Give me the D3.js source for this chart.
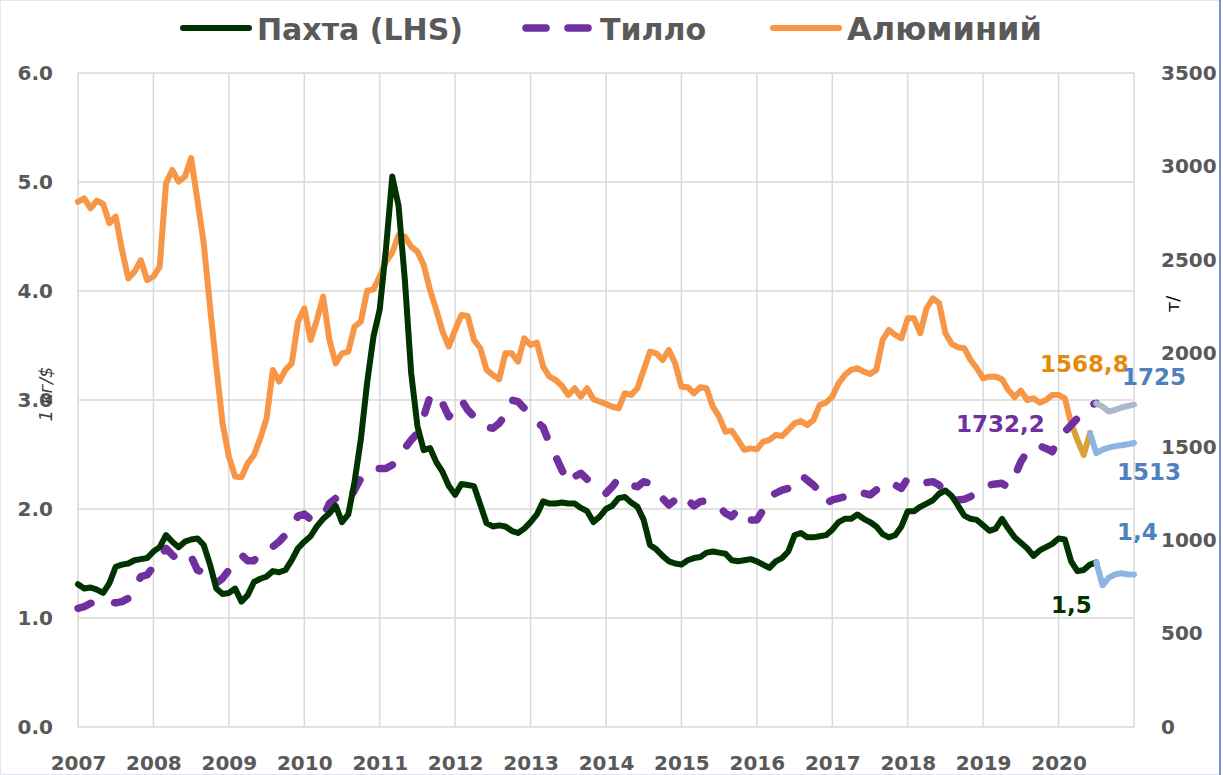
<!DOCTYPE html>
<html>
<head>
<meta charset="utf-8">
<script src="https://cdn.jsdelivr.net/npm/d3@7"></script>
<style>
  body { margin: 0; background: #fff; }
  text { font-family: "DejaVu Sans", sans-serif; }
  .tick text { font-weight: bold; font-size: 20px; fill: #595959; }
</style>
</head>
<body>
<div class="chart"></div>
<script>
// year ticks on the x axis (monthly data starts Jan 2007)
var years = [2007, 2008, 2009, 2010, 2011, 2012, 2013, 2014, 2015, 2016, 2017, 2018, 2019, 2020];
var leftTicks = [0, 1, 2, 3, 4, 5, 6];
var rightTicks = [0, 500, 1000, 1500, 2000, 2500, 3000, 3500];

// cotton, left axis, Jan 2007 - Jul 2020
var cotton = [1.31, 1.27, 1.28, 1.26, 1.23, 1.32, 1.47, 1.49, 1.50, 1.53, 1.54, 1.55,
  1.61, 1.65, 1.76, 1.70, 1.65, 1.70, 1.72, 1.73, 1.67, 1.49, 1.27, 1.22,
  1.23, 1.27, 1.15, 1.21, 1.33, 1.36, 1.38, 1.43, 1.42, 1.44, 1.53, 1.64,
  1.70, 1.75, 1.84, 1.91, 1.96, 2.03, 1.88, 1.95, 2.25, 2.64, 3.16, 3.58,
  3.83, 4.39, 5.05, 4.78, 4.10, 3.25, 2.76, 2.54, 2.56, 2.43, 2.34, 2.21,
  2.13, 2.23, 2.22, 2.21, 2.04, 1.87, 1.84, 1.85, 1.84, 1.80, 1.78, 1.82,
  1.88, 1.95, 2.07, 2.05, 2.05, 2.06, 2.05, 2.05, 2.01, 1.98, 1.88, 1.93,
  2.00, 2.03, 2.10, 2.11, 2.06, 2.02, 1.90, 1.67, 1.63, 1.57, 1.52, 1.50,
  1.49, 1.53, 1.55, 1.56, 1.60, 1.61, 1.60, 1.59, 1.53, 1.52, 1.53, 1.54,
  1.52, 1.49, 1.46, 1.52, 1.55, 1.61, 1.76, 1.78, 1.74, 1.74, 1.75, 1.76,
  1.81, 1.88, 1.91, 1.91, 1.95, 1.91, 1.88, 1.84, 1.77, 1.74, 1.76, 1.84,
  1.98, 1.98, 2.02, 2.05, 2.08, 2.14, 2.17, 2.12, 2.03, 1.94, 1.91, 1.90,
  1.85, 1.80, 1.82, 1.91, 1.82, 1.74, 1.69, 1.64, 1.57, 1.62, 1.65, 1.68,
  1.73, 1.72, 1.52, 1.43, 1.44, 1.49, 1.51];

// gold, right axis
var gold = [635, 644, 662, 671, 671, 671, 664, 671, 689, 742, 805, 814,
  858, 903, 956, 921, 890, 885, 912, 840, 826, 814, 769, 796,
  840, 885, 921, 890, 890, 938, 951, 965, 992, 1028, 1063, 1129,
  1140, 1111, 1108, 1126, 1197, 1224, 1215, 1206, 1268, 1331, 1366, 1384,
  1384, 1384, 1402, 1456, 1491, 1536, 1572, 1661, 1768, 1714, 1732, 1661,
  1706, 1750, 1697, 1661, 1616, 1604, 1599, 1625, 1670, 1750, 1741, 1706,
  1679, 1634, 1604, 1518, 1447, 1375, 1304, 1340, 1358, 1326, 1286, 1268,
  1251, 1286, 1331, 1322, 1295, 1286, 1313, 1304, 1268, 1224, 1188, 1215,
  1247, 1215, 1183, 1206, 1211, 1197, 1179, 1144, 1126, 1165, 1117, 1108,
  1108, 1161, 1233, 1251, 1268, 1277, 1322, 1349, 1322, 1295, 1259, 1197,
  1215, 1224, 1233, 1259, 1268, 1251, 1242, 1268, 1301, 1313, 1295, 1277,
  1331, 1336, 1326, 1308, 1313, 1295, 1254, 1219, 1215, 1219, 1233, 1254,
  1286, 1295, 1301, 1304, 1283, 1340, 1420, 1473, 1504, 1504, 1491, 1473,
  1545, 1580, 1616, 1652, 1697, 1723, 1732];

// aluminium, right axis, Jan 2007 - Jun 2020
var aluminium = [2811, 2829, 2776, 2817, 2799, 2696, 2731, 2553, 2401, 2437, 2499, 2392,
  2410, 2464, 2910, 2981, 2919, 2945, 3044, 2820, 2589, 2250, 1929, 1625,
  1447, 1340, 1336, 1411, 1456, 1545, 1652, 1911, 1848, 1911, 1946, 2169,
  2241, 2071, 2178, 2303, 2071, 1946, 2000, 2009, 2143, 2169, 2335, 2342,
  2410, 2490, 2539, 2633, 2624, 2571, 2544, 2473, 2339, 2232, 2116, 2036,
  2125, 2205, 2200, 2071, 2027, 1911, 1884, 1861, 2000, 2000, 1955, 2080,
  2044, 2057, 1929, 1875, 1857, 1825, 1777, 1813, 1768, 1813, 1754, 1741,
  1729, 1714, 1706, 1786, 1777, 1813, 1911, 2009, 2000, 1964, 2018, 1946,
  1821, 1818, 1786, 1818, 1813, 1714, 1661, 1580, 1586, 1536, 1483, 1491,
  1486, 1527, 1536, 1563, 1557, 1590, 1625, 1638, 1616, 1643, 1723, 1736,
  1768, 1839, 1884, 1911, 1920, 1902, 1889, 1911, 2071, 2125, 2098, 2080,
  2187, 2187, 2107, 2241, 2294, 2268, 2107, 2050, 2032, 2027, 1964, 1920,
  1866, 1875, 1875, 1861, 1804, 1765, 1800, 1750, 1759, 1736, 1750, 1777,
  1777, 1759, 1625, 1536, 1456, 1573];
var aluminiumRecentFrom = 158;

// forecasts to the end of 2020
var cottonForecastFrom = 162;
var cottonForecast = [1.51, 1.30, 1.37, 1.40, 1.41, 1.40, 1.40];
var goldForecastFrom = 162;
var goldForecast = [1732, 1714, 1688, 1697, 1710, 1718, 1725];
var aluminiumForecastFrom = 161;
var aluminiumForecast = [1573, 1466, 1485, 1495, 1503, 1508, 1513, 1520];

var svgWidth = 1223;
var svgHeight = 775;
var margin = { top: 73, right: 89, bottom: 48, left: 78 };
var width = svgWidth - margin.left - margin.right;
var height = svgHeight - margin.top - margin.bottom;

var svg = d3.select(".chart").append("svg")
  .attr("width", svgWidth)
  .attr("height", svgHeight);

// chart border
svg.append("rect")
  .attr("x", 0.5).attr("y", 0.5)
  .attr("width", 1219).attr("height", svgHeight - 1)
  .attr("fill", "none").attr("stroke", "#dfe7f3");
svg.append("line")
  .attr("x1", 1220).attr("x2", 1220).attr("y1", 0).attr("y2", svgHeight)
  .attr("stroke", "#6f93cf").attr("stroke-width", 2);

var chartGroup = svg.append("g")
  .attr("transform", `translate(${margin.left}, ${margin.top})`);

// scales
var xScale = d3.scaleLinear().domain([0, 168]).range([0, width]);
var yLeft = d3.scaleLinear().domain([0, 6]).range([height, 0]);
var yRight = d3.scaleLinear().domain([0, 3500]).range([height, 0]);

// gridlines
chartGroup.append("g")
  .selectAll("line.h")
  .data(leftTicks)
  .enter().append("line")
  .attr("x1", 0).attr("x2", width)
  .attr("y1", d => yLeft(d)).attr("y2", d => yLeft(d))
  .attr("stroke", "#d9d9d9").attr("stroke-width", 1.5);

chartGroup.append("g")
  .selectAll("line.v")
  .data(years.concat([2021]))
  .enter().append("line")
  .attr("x1", d => xScale((d - 2007) * 12)).attr("x2", d => xScale((d - 2007) * 12))
  .attr("y1", 0).attr("y2", height)
  .attr("stroke", "#d9d9d9").attr("stroke-width", 1.5);

// axes
var xAxis = d3.axisBottom(xScale)
  .tickValues(years.map(d => (d - 2007) * 12))
  .tickFormat((d, i) => years[i])
  .tickSize(0).tickPadding(29);
var leftAxis = d3.axisLeft(yLeft).tickValues(leftTicks)
  .tickFormat(d3.format(".1f")).tickSize(0).tickPadding(25);
var rightAxis = d3.axisRight(yRight).tickValues(rightTicks)
  .tickFormat(d => d).tickSize(0).tickPadding(27);

chartGroup.append("g").attr("transform", `translate(0, ${height})`).call(xAxis);
chartGroup.append("g").call(leftAxis);
chartGroup.append("g").attr("transform", `translate(${width}, 0)`).call(rightAxis);
chartGroup.selectAll(".domain").remove();

// line generators
var lineLeft = function (start) {
  return d3.line().x((d, i) => xScale(start + i)).y(d => yLeft(d));
};
var lineRight = function (start) {
  return d3.line().x((d, i) => xScale(start + i)).y(d => yRight(d));
};

function drawLine(data, gen, color, w, dash) {
  var p = chartGroup.append("path")
    .datum(data)
    .attr("d", gen)
    .attr("fill", "none")
    .attr("stroke", color)
    .attr("stroke-width", w)
    .attr("stroke-linejoin", "round")
    .attr("stroke-linecap", "round");
  if (dash) p.attr("stroke-dasharray", dash);
  return p;
}

// aluminium
drawLine(aluminium.slice(0, aluminiumRecentFrom + 1), lineRight(0), "#f79646", 6);
drawLine(aluminium.slice(aluminiumRecentFrom), lineRight(aluminiumRecentFrom), "#dda038", 6);
drawLine(aluminiumForecast, lineRight(aluminiumForecastFrom), "#8db4e2", 6);

// gold
drawLine(gold, lineRight(0), "#7030a0", 7.5, "14,24");
drawLine(goldForecast, lineRight(goldForecastFrom), "#adb9ca", 6);

// cotton
drawLine(cotton, lineLeft(0), "#013300", 6);
drawLine(cottonForecast, lineLeft(cottonForecastFrom), "#8db4e2", 6);

// data labels
var labels = [
  { text: "1568,8", x: 1040, y: 372, color: "#e48a0c" },
  { text: "1725", x: 1122, y: 385, color: "#4f81bd" },
  { text: "1732,2", x: 956, y: 432, color: "#7030a0" },
  { text: "1513", x: 1117, y: 480, color: "#4f81bd" },
  { text: "1,4", x: 1117, y: 540, color: "#4f81bd" },
  { text: "1,5", x: 1051, y: 613, color: "#013300" }
];
svg.selectAll("text.lbl")
  .data(labels)
  .enter().append("text")
  .attr("class", "lbl")
  .attr("x", d => d.x).attr("y", d => d.y)
  .attr("fill", d => d.color)
  .attr("font-weight", "bold")
  .attr("font-size", "23px")
  .text(d => d.text);

// axis titles
svg.append("text")
  .attr("transform", "translate(52, 394) rotate(-90)")
  .attr("text-anchor", "middle")
  .attr("font-style", "italic")
  .attr("font-size", "18px")
  .attr("fill", "#404040")
  .text("1 кг/$");

svg.append("text")
  .attr("transform", "translate(1179, 304) rotate(-90)")
  .attr("text-anchor", "middle")
  .attr("font-size", "18px")
  .attr("fill", "#000")
  .text("т/");

// legend
var legend = svg.append("g");
legend.append("line").attr("x1", 183).attr("x2", 249).attr("y1", 28).attr("y2", 28)
  .attr("stroke", "#013300").attr("stroke-width", 6).attr("stroke-linecap", "round");
legend.append("line").attr("x1", 526).attr("x2", 590).attr("y1", 28).attr("y2", 28)
  .attr("stroke", "#7030a0").attr("stroke-width", 7.5).attr("stroke-linecap", "round")
  .attr("stroke-dasharray", "20,22");
legend.append("line").attr("x1", 773).attr("x2", 839).attr("y1", 28).attr("y2", 28)
  .attr("stroke", "#f79646").attr("stroke-width", 6).attr("stroke-linecap", "round");

var legendText = [
  { text: "Пахта (LHS)", x: 257, size: 30 },
  { text: "Тилло", x: 600, size: 30 },
  { text: "Алюминий", x: 847, size: 32 }
];
legend.selectAll("text")
  .data(legendText)
  .enter().append("text")
  .attr("x", d => d.x).attr("y", 40)
  .attr("font-size", d => d.size + "px")
  .attr("font-weight", "bold")
  .attr("fill", "#595959")
  .text(d => d.text);
</script>
</body>
</html>
